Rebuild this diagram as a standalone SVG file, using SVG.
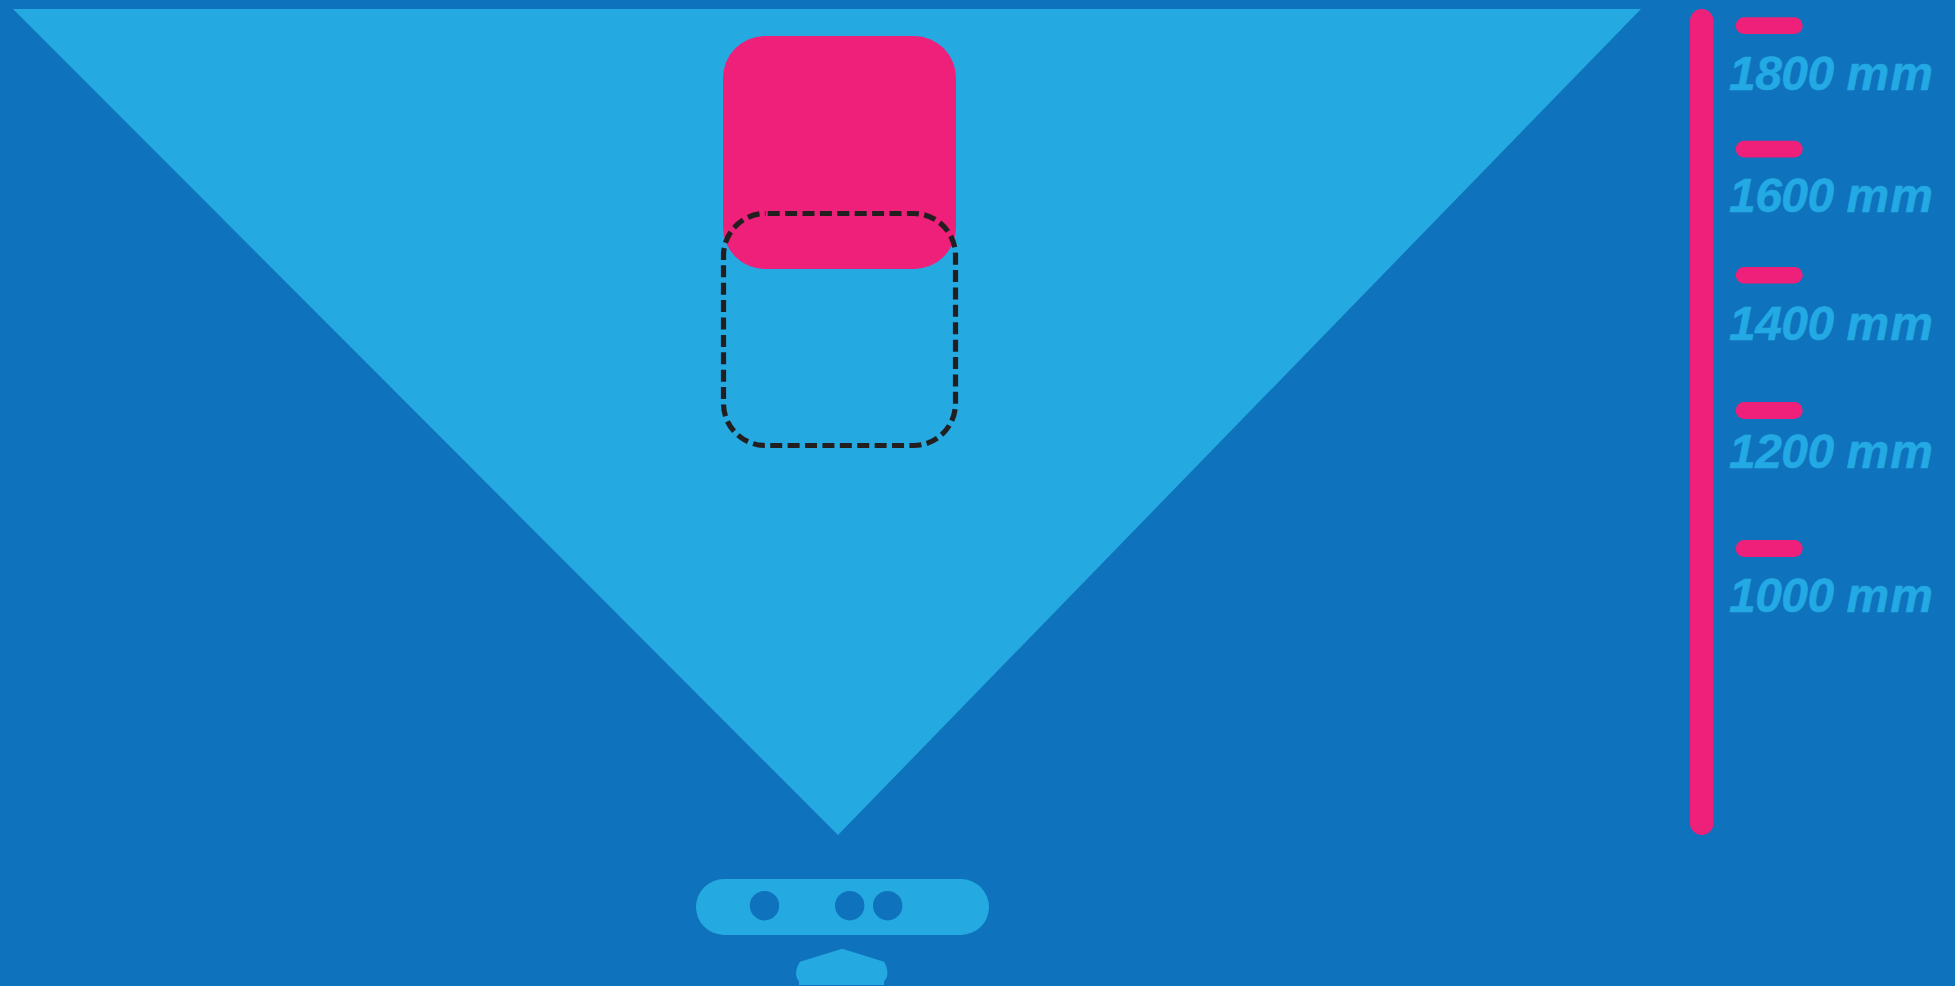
<svg xmlns="http://www.w3.org/2000/svg" width="1955" height="986" viewBox="0 0 1955 986">
<style>
.light{fill:#25a9e1}
.pink{fill:#ee207a}
.hole{fill:#0f72bc}
.lbl{fill:#23a9e3;stroke:#23a9e3;stroke-width:.5px;font-family:"Liberation Sans",Arial,sans-serif;font-size:48px;font-weight:bold;font-style:italic}
.num{letter-spacing:-.55px}
.unit{letter-spacing:1.2px}
</style>
<rect width="1955" height="986" fill="#0f72bc"/>
<g id="field"><polygon class="light" points="13,9 1641,9 838,835"/></g>
<g id="far-box"><rect class="pink" x="723" y="36" width="233" height="233" rx="42"/></g>
<g id="near-box"><rect x="723.5" y="213.5" width="232" height="232" rx="42" fill="none" stroke="#231f20" stroke-width="5.2" stroke-dasharray="12 5.4" stroke-dashoffset="-2.2"/></g>
<g id="sensor">
<rect class="light" x="696" y="879" width="293" height="56" rx="28"/>
<circle class="hole" cx="764.5" cy="905.7" r="14.7"/>
<circle class="hole" cx="849.7" cy="905.7" r="14.7"/>
<circle class="hole" cx="887.7" cy="905.7" r="14.7"/>
</g>
<g id="person"><path class="light" d="M842.3 948.7L884 961.8C886.5 966 887.4 970 887.4 973.3C887.4 976.5 886 979.5 884 981.5V985H799V981.5C797 979 796 976 796 973.3C796 970 797.5 966 800 961.8Z"/></g>
<g id="scale">
<rect class="pink" x="1690" y="9" width="23.4" height="826" rx="11.7"/>
<rect class="pink" x="1735.7" y="17.3" width="67" height="16.7" rx="8.35"/>
<rect class="pink" x="1735.7" y="140.7" width="67" height="16.7" rx="8.35"/>
<rect class="pink" x="1735.7" y="267" width="67" height="16.5" rx="8.25"/>
<rect class="pink" x="1735.7" y="402" width="67" height="17" rx="8.5"/>
<rect class="pink" x="1735.7" y="540" width="67" height="17" rx="8.5"/>
<text class="lbl" x="1729" y="90"><tspan class="num">1800 </tspan><tspan class="unit">mm</tspan></text>
<text class="lbl" x="1729" y="212"><tspan class="num">1600 </tspan><tspan class="unit">mm</tspan></text>
<text class="lbl" x="1729" y="340"><tspan class="num">1400 </tspan><tspan class="unit">mm</tspan></text>
<text class="lbl" x="1729" y="468.3"><tspan class="num">1200 </tspan><tspan class="unit">mm</tspan></text>
<text class="lbl" x="1729" y="612"><tspan class="num">1000 </tspan><tspan class="unit">mm</tspan></text>
</g>
</svg>
